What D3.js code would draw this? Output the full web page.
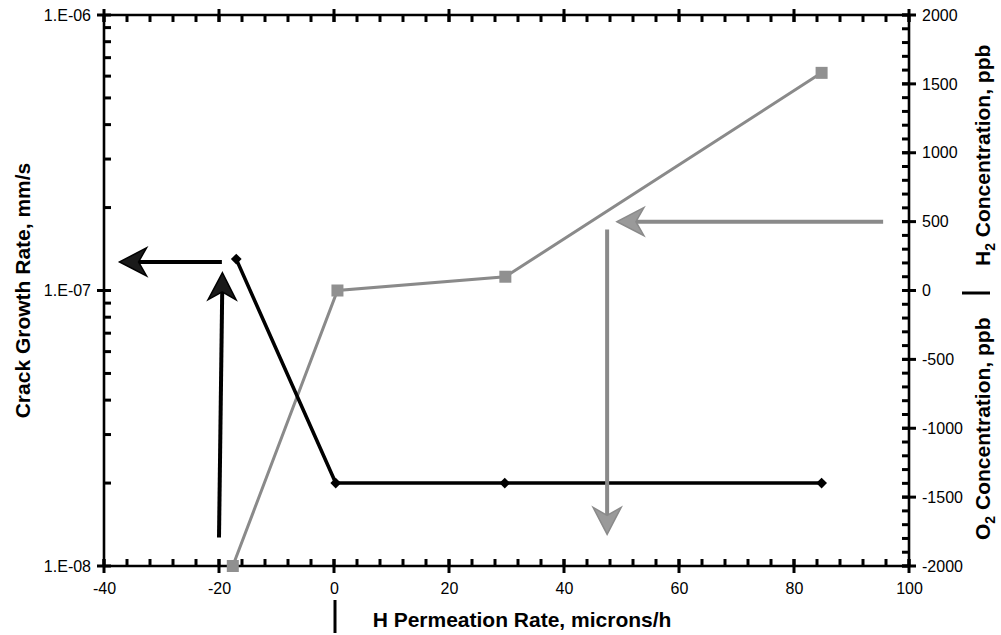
<!DOCTYPE html>
<html>
<head>
  <meta charset="utf-8">
  <title>Crack growth rate vs H permeation rate</title>
  <script src="https://d3js.org/d3.v7.min.js"></script>
  <style>
    body { margin: 0; background: #fff; }
    svg { display: block; font-family: "Liberation Sans", Arial, sans-serif; }
    .axis text { font-size: 16px; fill: #000; }
    .title { font-size: 21px; font-weight: bold; fill: #000; }
  </style>
</head>
<body>
<svg class="chart"></svg>
<script>

// --- data ---
var xTicks = [-40, -20, 0, 20, 40, 60, 80, 100];
var leftTicks = [1e-8, 1e-7, 1e-6];
var leftTickLabels = ["1.E-08", "1.E-07", "1.E-06"];
var rightTicks = [-2000, -1500, -1000, -500, 0, 500, 1000, 1500, 2000];

// crack growth rate (left, log axis), black diamonds
var permeationCGR = [-17, 0.3, 29.7, 84.8];
var crackGrowth = [1.3e-7, 2e-8, 2e-8, 2e-8];

// H2 / O2 concentration (right axis), grey squares
var permeationConc = [-17.6, 0.6, 29.8, 84.8];
var concentration = [-2000, 0, 100, 1580];

// annotation arrows, in data units: [x1, y1, x2, y2]
var blackArrows = [[-19.5, 1.27e-7, -37.3, 1.27e-7], [-20.0, 1.27e-8, -19.4, 1.16e-7]];
var greyArrows = [[95.5, 500, 49.2, 500], [47.5, 443, 47.5, -1771]];

var W = 1001, H = 635;
var margin = {top: 15, right: 92, bottom: 69, left: 104};
var width = W - margin.left - margin.right,
    height = H - margin.top - margin.bottom;

var grey = "#8a8a8a";

var svg = d3.select(".chart").attr("width", W).attr("height", H);
svg.append("rect").attr("width", W).attr("height", H).attr("fill", "#fff");

var chart = svg.append("g")
    .attr("transform", "translate(" + margin.left + "," + margin.top + ")");

var x = d3.scaleLinear().domain([-40, 100]).range([0, width]);
var yL = d3.scaleLog().domain([1e-8, 1e-6]).range([height, 0]);
var yR = d3.scaleLinear().domain([-2000, 2000]).range([height, 0]);

var xMinor = d3.range(-40, 100.1, 4);
var leftMinor = [];
[1e-8, 1e-7].forEach(function(d) { for (var k = 2; k <= 9; k++) leftMinor.push(d * k); });
var rightMinor = d3.range(-2000, 2000.1, 100);

var hyphen = function(d) { return String(d); };  // plain hyphen, like the original

function styleAxis(g) {
  g.select(".domain").remove();
  g.selectAll(".tick line").remove();
  g.selectAll(".tick text").attr("fill", "#000");
}

// tick labels through d3 axes
chart.append("g").attr("class", "axis")
    .attr("transform", "translate(0," + height + ")")
    .call(d3.axisBottom(x).tickValues(xTicks).tickSize(6).tickPadding(11).tickFormat(hyphen))
    .call(styleAxis);
chart.append("g").attr("class", "axis")
    .call(d3.axisLeft(yL).tickValues(leftTicks).tickSize(6).tickPadding(7)
      .tickFormat(function(d, i) { return leftTickLabels[i]; }))
    .call(styleAxis);
chart.append("g").attr("class", "axis")
    .attr("transform", "translate(" + width + ",0)")
    .call(d3.axisRight(yR).tickValues(rightTicks).tickSize(6).tickPadding(7).tickFormat(hyphen))
    .call(styleAxis);

// tick marks: minors inside, majors crossing
var ticks = chart.append("g").attr("stroke", "#000").attr("stroke-width", 3);
function vTicks(values, y0, y1) {
  values.forEach(function(d) {
    ticks.append("line")
        .attr("x1", x(d)).attr("x2", x(d))
        .attr("y1", y0).attr("y2", y1);
  });
}
function hTicks(values, scale, x0, x1) {
  values.forEach(function(d) {
    ticks.append("line")
        .attr("y1", scale(d)).attr("y2", scale(d))
        .attr("x1", x0).attr("x2", x1);
  });
}
vTicks(xMinor, height - 7, height);
vTicks(xTicks, height - 7, height + 7);
vTicks(xMinor, 0, 7);
vTicks(xTicks, -6, 7);
hTicks(leftMinor, yL, 0, 7);
hTicks(leftTicks, yL, -7, 7);
hTicks(rightMinor, yR, width - 7, width);
hTicks(rightTicks, yR, width - 7, width + 7);

// frame lines
var frame = chart.append("g").attr("stroke", "#000").attr("stroke-width", 2.6).attr("fill", "none");
frame.append("line").attr("x1", 0).attr("x2", width).attr("y1", height).attr("y2", height);
frame.append("line").attr("x1", 0).attr("x2", width).attr("y1", 0).attr("y2", 0);
frame.append("line").attr("x1", 0).attr("x2", 0).attr("y1", 0).attr("y2", height);
frame.append("line").attr("x1", width).attr("x2", width).attr("y1", 0).attr("y2", height);

// grey concentration series
var concData = permeationConc.map(function(d, i) { return [d, concentration[i]]; });
chart.append("path")
    .datum(concData)
    .attr("fill", "none")
    .attr("stroke", grey)
    .attr("stroke-width", 3)
    .attr("d", d3.line().x(function(d) { return x(d[0]); }).y(function(d) { return yR(d[1]); }));
chart.selectAll(".sq")
    .data(concData)
  .enter().append("rect")
    .attr("class", "sq")
    .attr("x", function(d) { return x(d[0]) - 6; })
    .attr("y", function(d) { return yR(d[1]) - 6; })
    .attr("width", 12).attr("height", 12)
    .attr("fill", "#909090");

// black crack growth series
var cgrData = permeationCGR.map(function(d, i) { return [d, crackGrowth[i]]; });
chart.append("path")
    .datum(cgrData)
    .attr("fill", "none")
    .attr("stroke", "#000")
    .attr("stroke-width", 3.6)
    .attr("d", d3.line().x(function(d) { return x(d[0]); }).y(function(d) { return yL(d[1]); }));
chart.selectAll(".dia")
    .data(cgrData)
  .enter().append("path")
    .attr("class", "dia")
    .attr("transform", function(d) { return "translate(" + x(d[0]) + "," + yL(d[1]) + ") rotate(45)"; })
    .attr("d", "M-3.8,-3.8H3.8V3.8H-3.8Z")
    .attr("fill", "#000");

// stealth style arrow
function arrow(x1, y1, x2, y2, color, inner, w) {
  var dx = x2 - x1, dy = y2 - y1, L = Math.sqrt(dx * dx + dy * dy);
  var ux = dx / L, uy = dy / L, px = -uy, py = ux;
  var len = 27, half = 14, notch = 8;
  var bx = x2 - ux * len, by = y2 - uy * len;
  var nx = x2 - ux * (len - notch), ny = y2 - uy * (len - notch);
  chart.append("line")
      .attr("x1", x1).attr("y1", y1).attr("x2", nx).attr("y2", ny)
      .attr("stroke", color).attr("stroke-width", w);
  chart.append("path")
      .attr("d", "M" + x2 + "," + y2 +
        "L" + (bx + px * half) + "," + (by + py * half) +
        "L" + nx + "," + ny +
        "L" + (bx - px * half) + "," + (by - py * half) + "Z")
      .attr("fill", inner)
      .attr("stroke", color)
      .attr("stroke-width", 1.5);
}

blackArrows.forEach(function(a) {
  arrow(x(a[0]), yL(a[1]), x(a[2]), yL(a[3]), "#000", "#1a1a1a", 4);
});
greyArrows.forEach(function(a) {
  arrow(x(a[0]), yR(a[1]), x(a[2]), yR(a[3]), grey, "#9a9a9a", 4);
});

// axis titles
svg.append("text")
    .attr("class", "title")
    .attr("transform", "translate(30," + (margin.top + height / 2) + ") rotate(-90)")
    .attr("text-anchor", "middle")
    .text("Crack Growth Rate, mm/s");

svg.append("text")
    .attr("class", "title")
    .attr("x", 522).attr("y", 627)
    .attr("text-anchor", "middle")
    .text("H Permeation Rate, microns/h");

svg.append("line")
    .attr("x1", 335).attr("x2", 335).attr("y1", 600).attr("y2", 633)
    .attr("stroke", "#000").attr("stroke-width", 3);

function subTitle(y, letter) {
  var t = svg.append("text")
      .attr("class", "title")
      .attr("transform", "translate(990," + y + ") rotate(-90)")
      .attr("text-anchor", "start");
  t.append("tspan").text(letter);
  t.append("tspan").attr("dy", 5).attr("font-size", "14px").text("2");
  t.append("tspan").attr("dy", -5).text(" Concentration, ppb");
}
subTitle(540, "O");
subTitle(266, "H");

svg.append("line")
    .attr("x1", 962).attr("x2", 990).attr("y1", 293).attr("y2", 293)
    .attr("stroke", "#000").attr("stroke-width", 3);

</script>
</body>
</html>
